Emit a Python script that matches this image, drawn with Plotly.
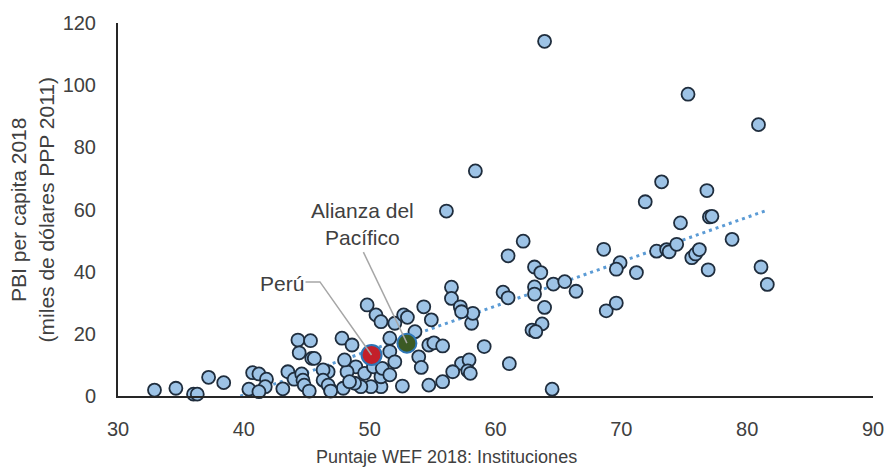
import numpy as np
import plotly.graph_objects as go

# Puntaje WEF 2018 (Instituciones) y PBI per cápita 2018 (miles de US$ PPP 2011)
wef_score = [
    63.9, 75.3, 80.9, 58.4, 73.2, 71.9, 56.1, 76.8, 77.0, 77.2,
    74.7, 78.8, 81.1, 81.6, 62.2, 61.0, 68.6, 72.8, 73.6, 73.8,
    74.4, 75.6, 75.9, 76.2, 76.9, 69.9, 69.6, 71.2, 63.1, 63.6,
    64.6, 65.5, 66.4, 63.1, 63.1, 60.6, 61.0, 56.5, 56.5, 57.2,
    49.8, 54.3, 63.9, 63.7, 62.9, 63.2, 68.8, 69.6, 59.1, 61.1,
    64.5, 58.1, 58.2, 50.5, 50.9, 52.0, 52.7, 53.0, 54.9, 57.3,
    47.8, 48.6, 51.6, 53.6, 51.6, 52.0, 53.9, 54.1, 54.7, 55.1,
    55.8, 57.3, 57.9, 57.8, 58.0, 56.6, 55.8, 54.7, 52.6, 50.9,
    50.1, 49.3, 48.8, 48.9, 48.2, 48.0, 49.6, 50.3, 50.9, 51.0,
    51.6, 47.9, 46.9, 46.7, 44.3, 45.3, 44.4, 45.4, 45.6, 40.7,
    41.2, 41.8, 41.7, 40.4, 41.2, 43.5, 44.0, 44.6, 44.7, 44.8,
    43.1, 45.2, 46.3, 46.3, 46.7, 46.9, 48.4, 32.9, 34.6, 36.0,
    36.3, 37.2, 38.4,
]
gdp_pc = [
    114.1, 97.1, 87.3, 72.4, 68.9, 62.5, 59.5, 66.1, 57.6, 57.8,
    55.7, 50.4, 41.5, 35.9, 49.8, 45.1, 47.2, 46.6, 47.1, 46.4,
    48.8, 44.5, 45.7, 47.1, 40.6, 42.9, 40.8, 39.7, 41.5, 39.7,
    36.0, 36.8, 33.7, 35.1, 32.8, 33.4, 31.6, 35.0, 31.4, 28.7,
    29.3, 28.7, 28.5, 23.2, 21.2, 20.7, 27.4, 29.9, 15.9, 10.4,
    2.2, 23.4, 26.6, 26.1, 23.9, 23.4, 26.1, 25.3, 24.5, 27.1,
    18.6, 16.4, 18.6, 20.7, 14.3, 11.0, 12.6, 9.2, 16.4, 17.1,
    16.1, 10.5, 11.6, 8.1, 7.3, 7.8, 4.6, 3.5, 3.2, 3.0,
    3.0, 3.0, 4.1, 9.4, 7.8, 11.6, 7.3, 9.4, 6.2, 8.9,
    6.8, 2.5, 1.9, 7.8, 18.0, 17.8, 13.9, 12.1, 12.1, 7.5,
    7.1, 5.4, 3.0, 2.2, 1.4, 7.8, 5.4, 7.1, 5.1, 3.5,
    2.3, 1.6, 8.4, 5.1, 3.5, 1.6, 4.6, 1.9, 2.5, 0.6,
    0.6, 6.0, 4.3,
]

peru_label = "Perú"
peru_point = (50.15, 13.2)
alianza_label = "Alianza del<br>Pacífico"
alianza_point = (52.96, 17.0)

x_ticks = [30, 40, 50, 60, 70, 80, 90]
y_ticks = [0, 20, 40, 60, 80, 100, 120]

FONT = "Liberation Sans, Arial, sans-serif"
TEXT = "#404040"

# Tendencia lineal (mínimos cuadrados) sobre todos los países, incluido Perú
all_x = np.array(wef_score + [peru_point[0]])
all_y = np.array(gdp_pc + [peru_point[1]])
slope, intercept = np.polyfit(all_x, all_y, 1)
trend_x = np.array([all_x.min(), all_x.max()])
trend_y = slope * trend_x + intercept

fig = go.Figure()

fig.add_trace(go.Scatter(
    x=trend_x, y=trend_y, mode="lines",
    line=dict(color="#5b9bd5", width=3, dash="3px,4px"),
    hoverinfo="skip", showlegend=False,
))

fig.add_trace(go.Scatter(
    x=wef_score, y=gdp_pc, mode="markers",
    marker=dict(size=13, color="#9dc3e6", line=dict(color="#1f2d3d", width=1.8)),
    cliponaxis=False, showlegend=False,
))

fig.add_trace(go.Scatter(
    x=[peru_point[0]], y=[peru_point[1]], mode="markers",
    marker=dict(size=20, color="#c3202a", line=dict(color="#2e75b6", width=2)),
    cliponaxis=False, showlegend=False,
))
fig.add_trace(go.Scatter(
    x=[alianza_point[0]], y=[alianza_point[1]], mode="markers",
    marker=dict(size=19, color="#3b5a24", line=dict(color="#2e75b6", width=2)),
    cliponaxis=False, showlegend=False,
))

# Líneas guía de las etiquetas
fig.add_trace(go.Scatter(
    x=[44.9, 46.05, peru_point[0]], y=[36.7, 36.7, peru_point[1]],
    mode="lines", line=dict(color="#a6a6a6", width=1.5),
    hoverinfo="skip", showlegend=False,
))
fig.add_trace(go.Scatter(
    x=[49.5, alianza_point[0]], y=[46.3, alianza_point[1]],
    mode="lines", line=dict(color="#a6a6a6", width=1.5),
    hoverinfo="skip", showlegend=False,
))

annotations = [
    dict(x=43.05, y=36.2, xref="x", yref="y", text=peru_label, showarrow=False,
         font=dict(family=FONT, size=21, color=TEXT)),
    dict(x=49.4, y=55.2, xref="x", yref="y", text=alianza_label, showarrow=False,
         font=dict(family=FONT, size=21, color=TEXT)),
    dict(x=-0.114, y=0.5, xref="paper", yref="paper",
         text="PBI per capita 2018<br>(miles de dólares PPP 2011)",
         textangle=-90, showarrow=False, xanchor="center", yanchor="middle",
         font=dict(family=FONT, size=21, color=TEXT)),
    dict(x=0.435, y=-0.163, xref="paper", yref="paper",
         text="Puntaje WEF 2018: Instituciones", showarrow=False,
         xanchor="center", yanchor="middle",
         font=dict(family=FONT, size=18, color=TEXT)),
]

fig.update_layout(
    width=896, height=469,
    margin=dict(l=118, r=15, t=23, b=73),
    paper_bgcolor="white", plot_bgcolor="white",
    annotations=annotations,
    font=dict(family=FONT, color=TEXT),
)
fig.update_xaxes(
    range=[30, 90], tickvals=x_ticks, showgrid=False, zeroline=False,
    showline=True, linecolor="#262626", linewidth=2, ticks="",
    tickfont=dict(family=FONT, size=20, color=TEXT), ticklabelstandoff=14,
)
fig.update_yaxes(
    range=[0, 120], tickvals=y_ticks, showgrid=False, zeroline=False,
    showline=True, linecolor="#262626", linewidth=2, ticks="",
    tickfont=dict(family=FONT, size=20, color=TEXT), ticklabelstandoff=16,
)

fig.write_html("out.html")
